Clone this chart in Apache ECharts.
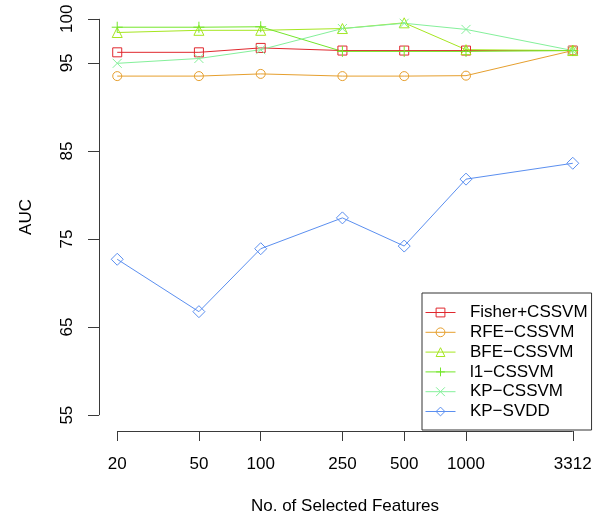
<!DOCTYPE html>
<html>
<head>
<meta charset="utf-8">
<script src="https://cdn.jsdelivr.net/npm/echarts@6/dist/echarts.min.js"></script>
<style>
  html, body { margin: 0; padding: 0; background: #fff; }
  #chart { width: 608px; height: 522px; }
</style>
</head>
<body>
<div id="chart"></div>
<script>
// Number of selected features (log-scaled x axis)
const features = [20, 50, 100, 250, 500, 1000, 3312];

// AUC (%) for each method
const fisherCSSVM = [96.2, 96.2, 96.7, 96.4, 96.4, 96.4, 96.4];
const rfeCSSVM    = [93.5, 93.5, 93.75, 93.5, 93.5, 93.55, 96.4];
const bfeCSSVM    = [98.45, 98.7, 98.7, 98.9, 99.55, 96.5, 96.4];
const l1CSSVM     = [99.05, 99.05, 99.1, 96.3, 96.3, 96.3, 96.4];
const kpCSSVM     = [94.95, 95.5, 96.5, 98.9, 99.5, 98.8, 96.4];
const kpSVDD      = [72.7, 66.75, 73.9, 77.4, 74.2, 81.8, 83.6];

// Axis tick labels
const yTicks = [55, 65, 75, 85, 95, 100];
const xTicks = features;

const FONT = '"Liberation Sans", Arial, Helvetica, sans-serif';
const AXIS_COLOR = '#3a3a3a';

// Plot-region padding of 4% on each side
const pad = 0.04;
const lx0 = Math.log10(xTicks[0]), lx1 = Math.log10(xTicks[xTicks.length - 1]);
const xMin = Math.pow(10, lx0 - pad * (lx1 - lx0));
const xMax = Math.pow(10, lx1 + pad * (lx1 - lx0));
const y0 = yTicks[0], y1 = yTicks[yTicks.length - 1];
const yMin = y0 - pad * (y1 - y0);
const yMax = y1 + pad * (y1 - y0);

const SYM = {
  square:   'path://M0,0H10V10H0Z',
  circle:   'path://M0,5A5,5 0 1,1 10,5A5,5 0 1,1 0,5Z',
  triangle: 'path://M5,0L10,8.66L0,8.66Z',
  plus:     'path://M5,0V10M0,5H10',
  cross:    'path://M0,0L10,10M10,0L0,10',
  diamond:  'path://M5,0L10,5L5,10L0,5Z'
};

const methods = [
  { name: 'Fisher+CSSVM', values: fisherCSSVM, color: '#E0282E', symbol: SYM.square,   size: 9 },
  { name: 'RFE\u2212CSSVM', values: rfeCSSVM,  color: '#E69F2E', symbol: SYM.circle,   size: 9 },
  { name: 'BFE\u2212CSSVM', values: bfeCSSVM,  color: '#A6E620', symbol: SYM.triangle, size: 10 },
  { name: 'l1\u2212CSSVM',  values: l1CSSVM,   color: '#74E62A', symbol: SYM.plus,     size: 11 },
  { name: 'KP\u2212CSSVM',  values: kpCSSVM,   color: '#84F09A', symbol: SYM.cross,    size: 9 },
  { name: 'KP\u2212SVDD',   values: kpSVDD,    color: '#5B8FF0', symbol: SYM.diamond,  size: 12 }
];

const series = methods.map(m => ({
  name: m.name,
  type: 'line',
  data: features.map((f, i) => [f, m.values[i]]),
  symbol: m.symbol,
  symbolSize: m.size,
  showAllSymbol: true,
  itemStyle: { color: 'rgba(0,0,0,0)', borderColor: m.color, borderWidth: 1 },
  lineStyle: { color: m.color, width: 1 },
  emphasis: { disabled: true },
  animation: false
}));

// Axis lines spanning only the tick range
series.push({
  name: 'axes',
  type: 'line',
  data: [],
  clip: false,
  silent: true,
  animation: false,
  markLine: {
    silent: true,
    animation: false,
    symbol: ['none', 'none'],
    label: { show: false },
    emphasis: { disabled: true },
    lineStyle: { color: AXIS_COLOR, width: 1, type: 'solid' },
    data: [
      [{ coord: [xTicks[0], yMin] }, { coord: [xTicks[xTicks.length - 1], yMin] }],
      [{ coord: [xMin, y0] }, { coord: [xMin, y1] }]
    ]
  }
});

const chart = echarts.init(document.getElementById('chart'), null, { renderer: 'canvas' });
chart.setOption({
  backgroundColor: '#fff',
  animation: false,
  textStyle: { fontFamily: FONT },
  grid: { left: 99, right: 17, top: 3, bottom: 91, containLabel: false },
  xAxis: {
    type: 'log',
    logBase: 10,
    min: xMin,
    max: xMax,
    name: 'No. of Selected Features',
    nameLocation: 'middle',
    nameGap: 67,
    nameTextStyle: { fontSize: 17, color: '#000', fontFamily: FONT },
    axisLine: { show: false },
    axisTick: { show: true, length: 10, customValues: xTicks, lineStyle: { color: AXIS_COLOR, width: 1 } },
    axisLabel: {
      customValues: xTicks,
      margin: 25,
      fontSize: 17,
      color: '#000',
      fontFamily: FONT,
      formatter: v => String(Math.round(v))
    },
    splitLine: { show: false },
    minorTick: { show: false }
  },
  yAxis: {
    type: 'value',
    min: yMin,
    max: yMax,
    name: 'AUC',
    nameLocation: 'middle',
    nameRotate: 90,
    nameGap: 64,
    nameTextStyle: { fontSize: 17, color: '#000', fontFamily: FONT },
    axisLine: { show: false },
    axisTick: { show: true, length: 11, customValues: yTicks, lineStyle: { color: AXIS_COLOR, width: 1 } },
    axisLabel: {
      customValues: yTicks,
      rotate: 90,
      margin: 23,
      fontSize: 17,
      color: '#000',
      fontFamily: FONT
    },
    splitLine: { show: false }
  },
  legend: {
    orient: 'vertical',
    left: 422,
    top: 293,
    padding: [11, 4, 10, 3],
    itemGap: 2.8,
    itemWidth: 30,
    itemHeight: 11,
    borderColor: '#333',
    borderWidth: 1,
    backgroundColor: '#fff',
    selectedMode: false,
    formatter: name => '  ' + name,
    textStyle: { fontSize: 17, lineHeight: 17, color: '#000', fontFamily: FONT },
    data: methods.map(m => ({
      name: m.name,
      itemStyle: { color: 'rgba(0,0,0,0)', borderColor: m.color, borderWidth: 1 },
      lineStyle: { color: m.color, width: 1 }
    }))
  },
  series: series
});
</script>
</body>
</html>
